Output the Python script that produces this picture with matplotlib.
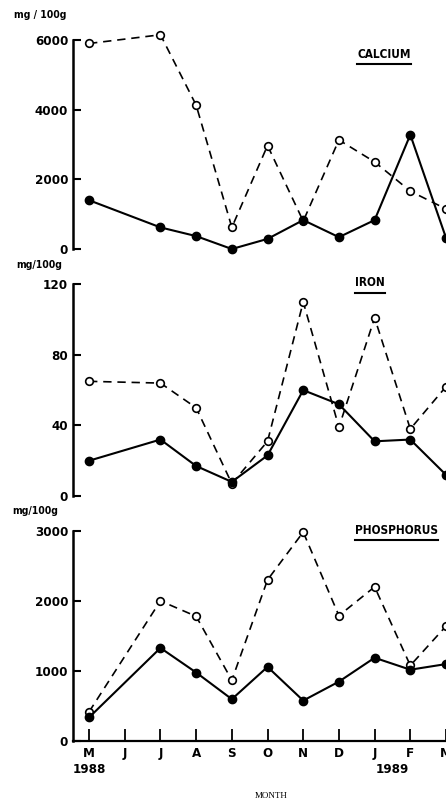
import numpy as np
import matplotlib.pyplot as plt
from matplotlib.lines import Line2D

# months on the x axis, May 1988 .. March 1989 (no June sample)
months = ["M", "J", "J", "A", "S", "O", "N", "D", "J", "F", "M"]
month_idx = [0, 2, 3, 4, 5, 6, 7, 8, 9, 10]
years = ["1988", "1989"]
year_pos = [0, 8.5]

calcium_open = [5900, 6150, 4130, 620, 2970, 800, 3130, 2500, 1660, 1150]
calcium_solid = [1400, 620, 370, 0, 290, 830, 340, 830, 3280, 320]
iron_open = [65, 64, 50, 7, 31, 110, 39, 101, 38, 62]
iron_solid = [20, 32, 17, 8, 23, 60, 52, 31, 32, 12]
phos_open = [420, 2000, 1780, 870, 2300, 2980, 1790, 2200, 1080, 1640]
phos_solid = [340, 1330, 980, 600, 1060, 580, 850, 1190, 1020, 1100]

calcium_ticks = [0, 2000, 4000, 6000]
iron_ticks = [0, 40, 80, 120]
phos_ticks = [0, 1000, 2000, 3000]

W, H = 446, 802
fig = plt.figure(figsize=(W / 100, H / 100), dpi=100)

FONT = dict(family="DejaVu Sans", fontstretch="condensed", fontweight="bold")

# (title, unit text, open, solid, yticks, top px, bottom px, unit label pos px, title pos px)
panels = [
    ("CALCIUM", "mg / 100g", calcium_open, calcium_solid, calcium_ticks, 40.0, 249.0, (40, 15), (357, 54)),
    ("IRON", "mg/100g", iron_open, iron_solid, iron_ticks, 284.3, 496.0, (39, 265), (355, 283)),
    ("PHOSPHORUS", "mg/100g", phos_open, phos_solid, phos_ticks, 530.7, 741.3, (35, 511), (355, 530)),
]

axes = []
titles = []
for i, (name, unit, y_open, y_solid, yt, top, bot, upos, tpos) in enumerate(panels):
    ax = fig.add_axes([73 / W, 1 - bot / H, 373 / W, (bot - top) / H])
    ax.set_xlim(-0.45, 10.0)
    ax.set_ylim(yt[0], yt[-1])

    ax.plot(month_idx, y_open, color="black", lw=1.2, dashes=(5, 3.5),
            marker="o", ms=5.5, mfc="white", mec="black", mew=1.2, clip_on=False, zorder=3)
    ax.plot(month_idx, y_solid, color="black", lw=1.5,
            marker="o", ms=6, mfc="black", mec="black", clip_on=False, zorder=4)

    for s in ["top", "right"]:
        ax.spines[s].set_visible(False)
    ax.spines["left"].set_linewidth(1.8)
    ax.set_yticks(yt)
    ax.set_yticklabels([str(v) for v in yt], **FONT)
    ax.tick_params(axis="y", direction="in", length=6, width=1.5, pad=3.5, labelsize=9.5)

    if i < 2:
        ax.spines["bottom"].set_visible(False)
        ax.set_xticks([])
    else:
        ax.spines["bottom"].set_linewidth(1.6)
        ax.set_xticks(range(len(months)))
        ax.set_xticklabels(months, **FONT)
        ax.tick_params(axis="x", direction="in", length=9, width=1.3, pad=4, labelsize=9.5)
        for yr, xp in zip(years, year_pos):
            ax.text(xp, -0.135, yr, transform=ax.get_xaxis_transform(),
                    ha="center", va="center", fontsize=9.5, **FONT)

    fig.text(upos[0] / W, 1 - upos[1] / H, unit, ha="center", va="center",
             fontsize=7.5, **FONT)
    t = fig.text(tpos[0] / W, 1 - tpos[1] / H, name, ha="left", va="center",
                 fontsize=8.5, **FONT)
    titles.append(t)
    axes.append(ax)

fig.text(271 / W, 1 - 796 / H, "MONTH", ha="center", va="center",
         fontsize=6.5, family="Liberation Serif")

# underline the panel titles
fig.canvas.draw()
r = fig.canvas.get_renderer()
for t in titles:
    bb = t.get_window_extent(r).transformed(fig.transFigure.inverted())
    fig.add_artist(Line2D([bb.x0, bb.x1], [bb.y0 - 3 / H, bb.y0 - 3 / H],
                          transform=fig.transFigure, color="black", lw=1.5))

fig.savefig("out.png", dpi=100)
